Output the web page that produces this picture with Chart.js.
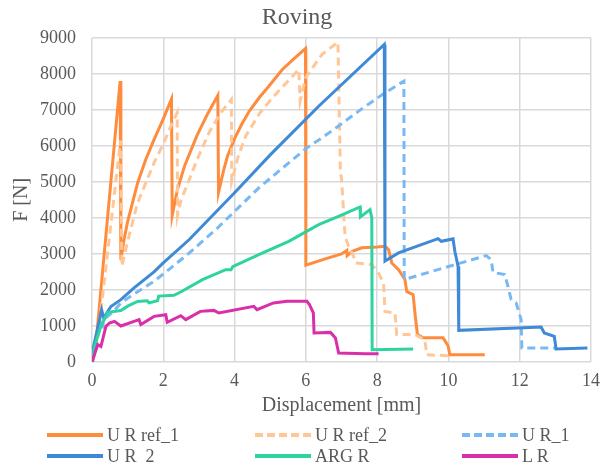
<!DOCTYPE html>
<html lang="en">
<head>
    <meta charset="UTF-8">
    <title>Roving</title>
    <script src="https://cdn.jsdelivr.net/npm/chart.js"></script>
    <style>
        body {
            margin: 0;
            padding: 0;
            background: white;
            font-family: 'Liberation Serif', 'Times New Roman', serif;
        }

        .wrap {
            position: relative;
            width: 608px;
            height: 462px;
            overflow: hidden;
        }

        .legend-item {
            position: absolute;
            height: 20px;
            display: flex;
            align-items: center;
            color: #595959;
            font-size: 18px;
            white-space: pre;
        }

        .legend-item svg {
            margin-right: 4px;
        }
    </style>
</head>
<body>
<div class="wrap">
    <canvas id="roving-chart" width="608" height="462"></canvas>
    <div id="legend"></div>
</div>
<script>
    // Force–displacement curves
    var seriesNames = ['U R ref_1', 'U R ref_2', 'U R_1', 'U R_2', 'ARG R', 'L R'];
    var xTicks = [0, 2, 4, 6, 8, 10, 12, 14];
    var yTicks = [0, 1000, 2000, 3000, 4000, 5000, 6000, 7000, 8000, 9000];

    var refOneX = [0, 0.1, 0.79, 0.81, 0.9, 1.0, 1.28, 1.5, 1.74, 2.0, 2.23, 2.25, 2.4, 2.6, 2.95, 3.25, 3.53, 3.55, 3.7, 3.8, 4.0, 4.2, 4.41, 4.7, 4.96, 5.34, 5.7, 5.99, 6.0, 6.5, 7.0, 7.15, 7.16, 7.3, 7.57, 8.0, 8.22, 8.32, 8.41, 8.6, 8.78, 8.83, 9.01, 9.06, 9.13, 9.29, 9.85, 9.99, 10.04, 11.02];
    var refOneY = [0, 400, 7800, 2840, 3400, 3900, 4970, 5600, 6175, 6750, 7300, 4070, 4800, 5450, 6300, 6900, 7400, 4710, 5350, 5712, 6200, 6600, 6960, 7350, 7656, 8120, 8450, 8700, 2690, 2850, 3000, 3100, 2950, 3070, 3170, 3190, 3210, 3120, 2750, 2560, 2290, 1960, 1870, 1360, 760, 670, 670, 450, 200, 200];

    var refTwoX = [0, 0.12, 0.8, 0.84, 1.0, 1.28, 1.74, 2.0, 2.21, 2.39, 2.4, 2.5, 2.73, 2.95, 3.3, 3.6, 3.91, 3.92, 4.1, 4.31, 4.7, 5.06, 5.5, 5.8, 5.84, 5.99, 6.45, 6.9, 6.97, 7.0, 7.1, 7.2, 7.34, 7.4, 7.85, 8.04, 8.18, 8.22, 8.5, 8.55, 9.06, 9.34, 9.39, 9.99];
    var refTwoY = [0, 300, 6150, 2660, 3350, 4420, 5530, 6050, 6545, 6920, 4070, 4500, 5064, 5620, 6400, 6900, 7290, 5020, 5700, 6267, 6900, 7334, 7800, 8120, 7240, 7890, 8536, 8880, 5250, 5100, 3490, 3211, 2933, 2750, 2703, 2472, 2195, 1405, 1361, 760, 760, 620, 200, 175];

    var urOneX = [0, 0.07, 0.15, 0.25, 0.3, 0.35, 0.44, 0.6, 0.81, 1.2, 1.74, 2.2, 2.73, 3.5, 4.68, 5.52, 6.03, 6.45, 7.0, 7.6, 8.22, 8.75, 8.76, 9.9, 11.06, 11.2, 11.25, 11.58, 11.67, 11.76, 11.9, 12.04, 12.06, 13.02];
    var urOneY = [0, 340, 800, 1080, 1000, 1200, 1270, 1400, 1640, 1900, 2240, 2600, 3028, 3700, 4834, 5528, 5945, 6222, 6611, 7050, 7473, 7795, 2290, 2620, 2953, 2842, 2489, 2425, 2100, 1730, 1639, 1175, 389, 389];

    var urTwoX = [0, 0.02, 0.15, 0.21, 0.27, 0.33, 0.44, 0.53, 0.81, 1.18, 1.74, 2.0, 2.73, 4.0, 5.0, 6.36, 8.2, 8.22, 8.6, 9.71, 9.8, 10.13, 10.18, 10.27, 10.29, 12.6, 12.69, 12.97, 13.02, 13.9];
    var urTwoY = [0, 340, 900, 1175, 1450, 1220, 1400, 1540, 1730, 2056, 2500, 2750, 3400, 4700, 5750, 7100, 8814, 2800, 3028, 3425, 3350, 3417, 3073, 2656, 878, 972, 806, 711, 361, 389];

    var argX = [0, 0.07, 0.25, 0.44, 0.81, 1.0, 1.28, 1.55, 1.6, 1.84, 1.87, 2.3, 2.5, 3.1, 3.75, 3.9, 3.95, 4.68, 5.52, 6.36, 7.0, 7.52, 7.53, 7.8, 7.85, 7.86, 9.01];
    var argY = [0, 430, 990, 1380, 1430, 1550, 1680, 1700, 1640, 1700, 1830, 1850, 1950, 2286, 2564, 2560, 2650, 2981, 3351, 3814, 4080, 4306, 4028, 4231, 4000, 342, 361];

    var lrX = [0, 0.16, 0.25, 0.39, 0.49, 0.63, 0.81, 1.18, 1.32, 1.37, 1.74, 2.07, 2.11, 2.49, 2.63, 3.04, 3.42, 3.56, 4.54, 4.63, 5.09, 5.47, 6.03, 6.1, 6.21, 6.23, 6.69, 6.83, 6.92, 7.66, 8.04];
    var lrY = [0, 480, 430, 990, 1083, 1128, 1000, 1128, 1175, 1040, 1267, 1314, 1100, 1286, 1175, 1406, 1433, 1361, 1544, 1453, 1639, 1683, 1683, 1592, 1361, 806, 822, 667, 250, 231, 231];

    var seriesX = [refOneX, refTwoX, urOneX, urTwoX, argX, lrX];
    var seriesY = [refOneY, refTwoY, urOneY, urTwoY, argY, lrY];
    var colors = ['#FF8B3D', '#FFC797', '#78B9F5', '#3F8AD6', '#2ED3A0', '#D92FA8'];
    var dashed = [false, true, true, false, false, false];

    var serif = "'Liberation Serif', 'Times New Roman', serif";
    var textColor = '#595959';

    function toPoints(xs, ys) {
        var pts = [];
        for (var i = 0; i < xs.length; i++) {
            pts.push({x: xs[i], y: ys[i]});
        }
        return pts;
    }

    var datasets = seriesNames.map(function (name, i) {
        return {
            label: name,
            data: toPoints(seriesX[i], seriesY[i]),
            borderColor: colors[i],
            backgroundColor: colors[i],
            borderWidth: 3,
            borderDash: dashed[i] ? [8, 5] : [],
            pointRadius: 0,
            tension: 0,
            fill: false,
            order: seriesNames.length - i
        };
    });

    new Chart(document.getElementById('roving-chart').getContext('2d'), {
        type: 'line',
        data: {datasets: datasets},
        options: {
            responsive: false,
            animation: false,
            layout: {padding: {left: 0, right: 14, top: 3, bottom: 44}},
            plugins: {
                legend: {display: false},
                tooltip: {enabled: false},
                title: {
                    display: true,
                    text: 'Roving',
                    color: textColor,
                    font: {family: serif, size: 24, weight: 'normal', lineHeight: 1.2},
                    padding: {top: 0, bottom: 6}
                }
            },
            scales: {
                x: {
                    type: 'linear',
                    min: 0,
                    max: 14,
                    afterBuildTicks: function (scale) {
                        scale.ticks = xTicks.map(function (v) { return {value: v}; });
                    },
                    afterFit: function (scale) { scale.height = 56; },
                    grid: {color: '#D9D9D9', lineWidth: 1.5, drawTicks: false},
                    border: {display: false},
                    ticks: {
                        color: textColor, font: {family: serif, size: 18}, padding: 8, maxRotation: 0,
                        callback: function (v) { return String(v); }
                    },
                    title: {
                        display: true,
                        text: 'Displacement [mm]',
                        color: textColor,
                        font: {family: serif, size: 20, lineHeight: 1.2},
                        padding: {top: 0, bottom: 0}
                    }
                },
                y: {
                    min: 0,
                    max: 9000,
                    afterBuildTicks: function (scale) {
                        scale.ticks = yTicks.map(function (v) { return {value: v}; });
                    },
                    afterFit: function (scale) { scale.width = 92; },
                    grid: {color: '#D9D9D9', lineWidth: 1.5, drawTicks: false},
                    border: {display: false},
                    ticks: {
                        color: textColor, font: {family: serif, size: 18}, padding: 16,
                        callback: function (v) { return String(v); }
                    },
                    title: {
                        display: true,
                        text: 'F [N]',
                        color: textColor,
                        font: {family: serif, size: 20, lineHeight: 1.2},
                        padding: {top: 10, bottom: 0}
                    }
                }
            }
        }
    });

    // legend laid out in three columns like the original
    var legendCols = [47, 255, 462];
    var legendRows = [425, 446];
    var legend = document.getElementById('legend');
    seriesNames.forEach(function (name, i) {
        var item = document.createElement('div');
        item.className = 'legend-item';
        item.style.left = legendCols[i % 3] + 'px';
        item.style.top = legendRows[Math.floor(i / 3)] + 'px';
        var dash = dashed[i] ? ' stroke-dasharray="8 4"' : '';
        item.innerHTML = '<svg width="56" height="6"><line x1="0" y1="3" x2="56" y2="3" stroke="' + colors[i] +
            '" stroke-width="4"' + dash + '/></svg>' + '<span></span>';
        item.querySelector('span').textContent = name;
        legend.appendChild(item);
    });
</script>
</body>
</html>
